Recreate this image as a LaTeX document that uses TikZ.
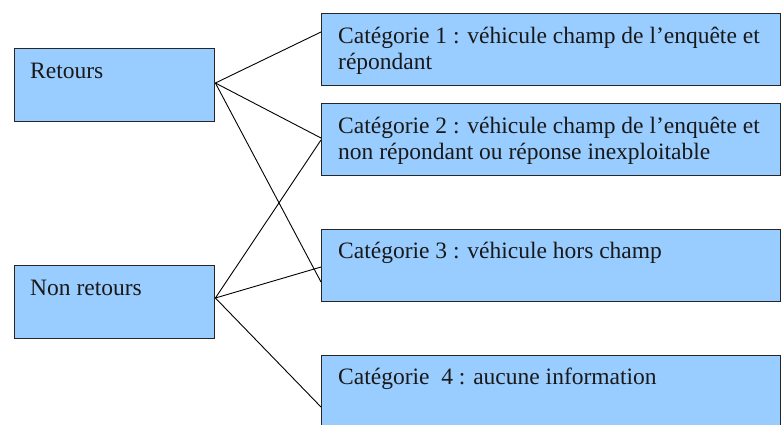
\documentclass[tikz,border=0pt]{standalone}
\usepackage{fontspec}
\setmainfont{Liberation Serif}
\newcommand{\twolines}[2]{\vtop{\baselineskip=26pt\hbox{#1}\hbox{#2}}}
\begin{document}
\begin{tikzpicture}[x=1pt,y=-1pt,
  box/.style={draw=black!85, line width=1.4pt, fill=boxblue, rectangle, anchor=north west, inner sep=0pt},
  txt/.style={anchor=base west, inner sep=0pt, font=\fontsize{23.5}{26}\selectfont, text=black!90},
  link/.style={draw=black, line width=0.9pt}]
\definecolor{boxblue}{HTML}{99CCFF}
\useasboundingbox (0,0) rectangle (781,424);
\fill[white] (0,0) rectangle (781,424);
% left boxes
\node[box, minimum width=200pt, minimum height=73pt] (ret) at (14,48) {};
\node[box, minimum width=200pt, minimum height=73pt] (nret) at (14,265) {};
% right boxes
\node[box, minimum width=459pt, minimum height=72pt] (c1) at (321,13) {};
\node[box, minimum width=459pt, minimum height=72pt] (c2) at (321,103) {};
\node[box, minimum width=459pt, minimum height=72pt] (c3) at (321,229) {};
\node[box, minimum width=459pt, minimum height=90pt] (c4) at (321,355) {};
% texts
\node[txt] (tret) at ([shift={(16,30)}]ret.north west) {Retours};
\node[txt] (tnret) at ([shift={(16,30)}]nret.north west) {Non retours};
\node[txt] (tc1) at ([shift={(17,30)}]c1.north west) {\twolines{Catégorie 1 : véhicule champ de l’enquête et}{répondant}};
\node[txt] (tc2) at ([shift={(17,30)}]c2.north west) {\twolines{Catégorie 2 : véhicule champ de l’enquête et}{non répondant ou réponse inexploitable}};
\node[txt] (tc3) at ([shift={(17,29)}]c3.north west) {Catégorie 3 : véhicule hors champ};
\node[txt] (tc4) at ([shift={(17,29)}]c4.north west) {Catégorie~ 4 : aucune information};
% anchor points
\coordinate (rA) at ([shift={(0,35)}]ret.north east);
\coordinate (nA) at ([shift={(0,33)}]nret.north east);
\coordinate (c1A) at ([shift={(0,19)}]c1.north west);
\coordinate (c2A) at ([shift={(0,35)}]c2.north west);
\coordinate (c2B) at ([shift={(0,37)}]c2.north west);
\coordinate (c3A) at ([shift={(0,53)}]c3.north west);
\coordinate (c3B) at ([shift={(0,38)}]c3.north west);
\coordinate (c4A) at ([shift={(0,52)}]c4.north west);
\draw[link] (rA) -- (c1A);
\draw[link] (rA) -- (c2A);
\draw[link] (rA) -- (c3A);
\draw[link] (nA) -- (c2B);
\draw[link] (nA) -- (c3B);
\draw[link] (nA) -- (c4A);
\end{tikzpicture}
\end{document}
